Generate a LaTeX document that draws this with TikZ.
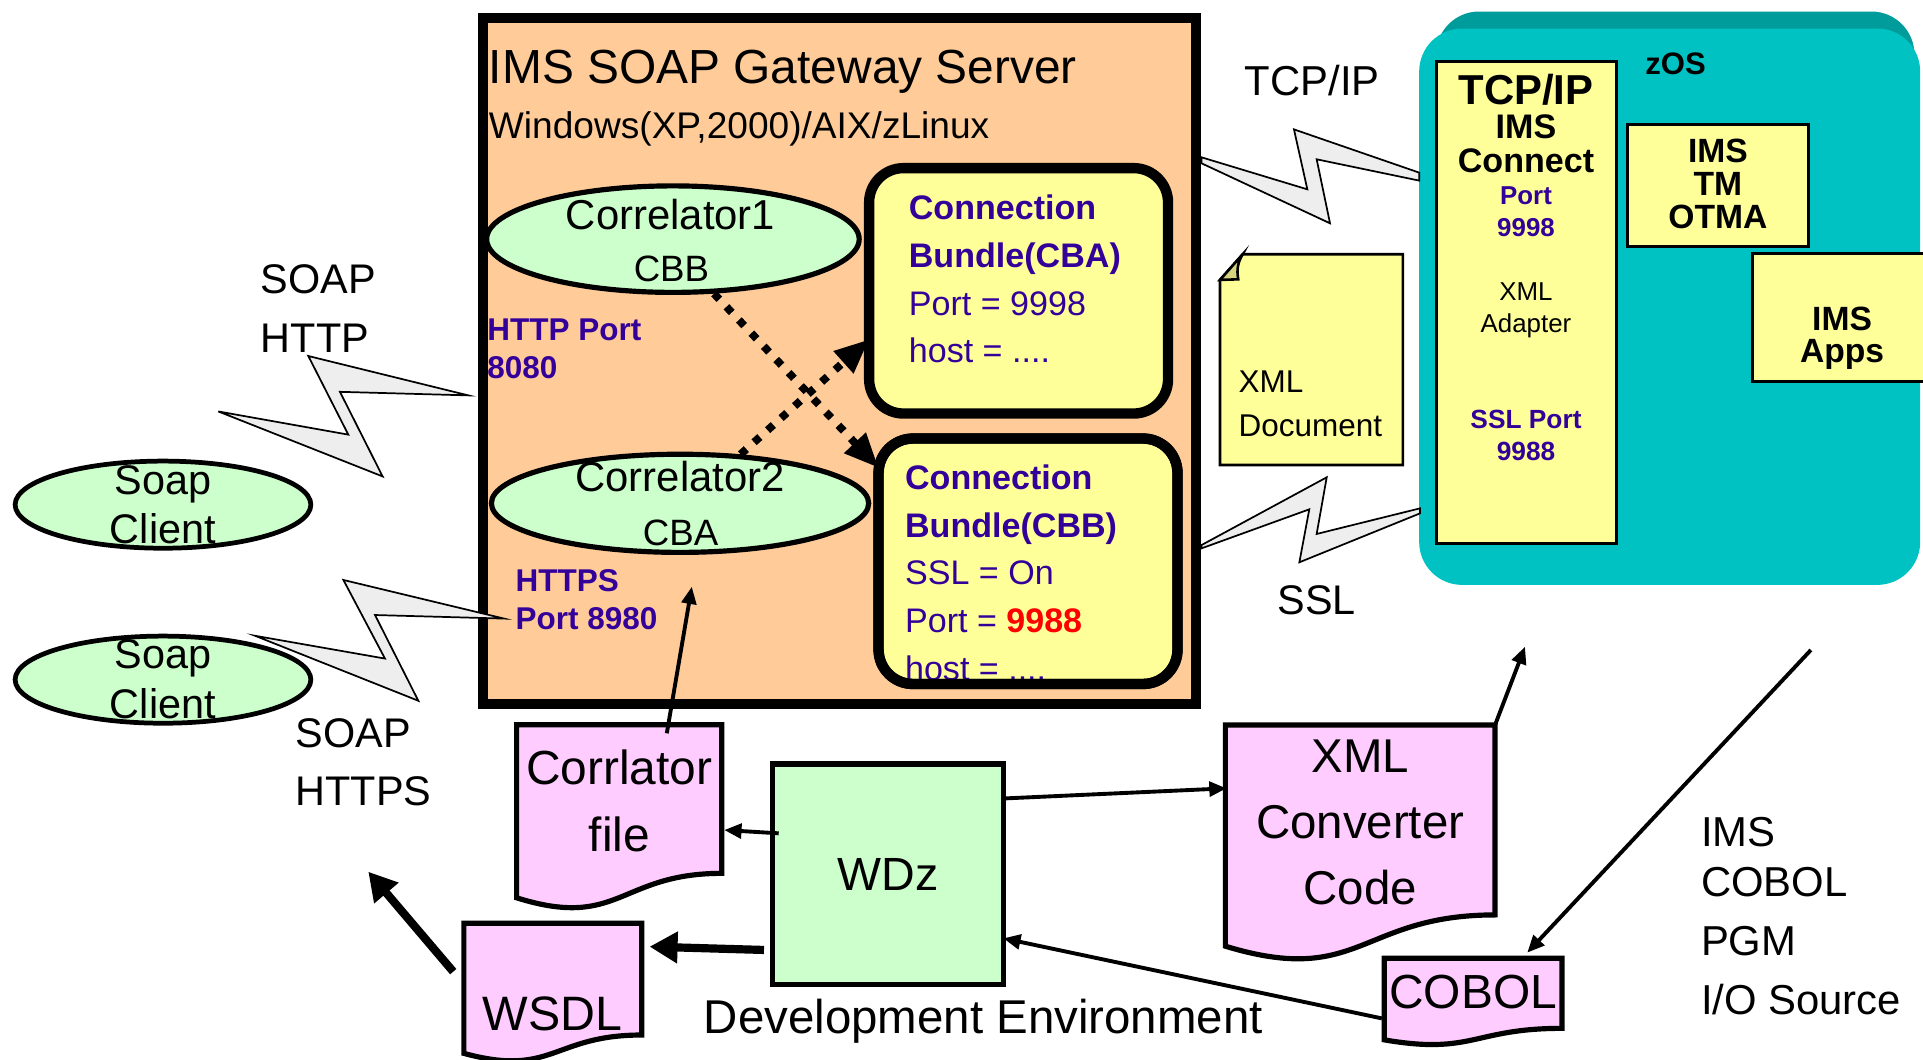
\documentclass[tikz,border=0pt]{standalone}
\usepackage{fontspec}
\setmainfont{Liberation Sans}
\usetikzlibrary{arrows.meta,calc,shapes.geometric}

\definecolor{peach}{HTML}{FFCC99}
\definecolor{mint}{HTML}{CCFFCC}
\definecolor{lemon}{HTML}{FFFF99}
\definecolor{pinkdoc}{HTML}{FFCCFF}
\definecolor{zosteal}{HTML}{00C2C2}
\definecolor{zosdark}{HTML}{009C9C}
\definecolor{portblue}{HTML}{330099}
\definecolor{boltgray}{HTML}{EEEEEE}
\definecolor{flapolive}{HTML}{D5D580}

\tikzset{
  serverbox/.style={draw, line width=2.3pt, fill=peach, inner sep=0pt, outer sep=0pt},
  cbbox/.style={draw, line width=2.4pt, fill=lemon, rounded corners=0.28cm,
    minimum width=2.436cm, minimum height=2cm, inner sep=0pt, outer sep=0pt},
  bubble/.style={ellipse, draw, line width=1.2pt, fill=mint, inner sep=0pt},
  zbox/.style={draw, line width=0.7pt, fill=lemon, inner sep=0pt},
  doc/.style={inner sep=0pt, outer sep=0pt},
  docline/.style={draw, line width=1.2pt, fill=pinkdoc},
  bolt/.style={draw, line width=0.4pt, fill=boltgray, line join=miter},
  label/.style={inner sep=0pt, align=left, anchor=base west},
  mid/.style={inner sep=0pt, align=center, anchor=base},
  porttext/.style={label, text=portblue, font=\bfseries\fontsize{7.3}{8.8}\selectfont},
  cbtext/.style={label, text=portblue, font=\fontsize{7.9}{11.04}\selectfont},
  dotarrow/.style={line width=1.8pt, dash pattern=on 1.8pt off 2.4pt,
    -{Triangle[length=8pt,width=6.5pt]}},
  thinarrow/.style={line width=0.9pt, -{Triangle[length=4pt,width=3.4pt]}},
  thickarrow/.style={line width=1.9pt, -{Triangle[length=6.5pt,width=7pt]}},
}

% wavy page outline round an empty node
\newcommand\docshape[1]{%
  \path[docline] (#1.north west) -- (#1.north east)
    -- ($(#1.north east)!0.802!(#1.south east)$)
    .. controls ($(#1.north)!0.802!(#1.south)$) and ($(#1.north)!1.1075!(#1.south)$)
    .. ($(#1.north west)!0.934!(#1.south west)$) -- cycle;}

\begin{document}
\begin{tikzpicture}[x=0.01cm, y=-0.01cm]
\useasboundingbox (0,0) rectangle (1568,864);

% zOS host (multi-line texts sit on their last baseline)
\fill[zosdark, rounded corners=0.35cm] (1171,9.4) rectangle (1561,462);
\node[fill=zosteal, rounded corners=0.35cm, minimum width=4.083cm, minimum height=4.534cm,
  inner sep=0pt, outer sep=0pt] (zos) at (1361.45,250.1) {};
\node[label, font=\bfseries\fontsize{7.2}{8}\selectfont] (zoslabel) at (1340.9,60.8) {zOS};

\node[zbox, minimum width=1.474cm, minimum height=3.932cm] (imsconnect) at (1244.7,246.5) {};
\node[mid, font=\bfseries\fontsize{9.7}{11}\selectfont] (tcpipin) at (1244.3,84.9) {TCP/IP};
\node[mid, font=\bfseries\fontsize{7.9}{7.97}\selectfont] (connname) at (1244.3,141) {IMS\\Connect};
\node[mid, text=portblue, font=\bfseries\fontsize{6}{7.37}\selectfont] (connport) at (1244.3,192.8) {Port\\9998};
\node[mid, font=\fontsize{6}{7.37}\selectfont] (adapter) at (1244.3,270.9) {XML\\Adapter};
\node[mid, text=portblue, font=\bfseries\fontsize{6.1}{7.3}\selectfont] (sslport) at (1244.3,375.1) {SSL Port\\9988};

\node[zbox, minimum width=1.471cm, minimum height=0.993cm] (otma) at (1400.95,151.05) {};
\node[mid, font=\bfseries\fontsize{7.8}{7.65}\selectfont] (otmaname) at (1400.8,186.3) {IMS\\TM\\OTMA};
\node[zbox, minimum width=1.6cm, minimum height=1.048cm] (apps) at (1509,259) {};
\node[mid, font=\bfseries\fontsize{7.8}{7.37}\selectfont] (appsname) at (1502,295.8) {IMS\\Apps};

% gateway server
\node[serverbox, minimum width=5.81cm, minimum height=5.595cm] (server) at (684.5,294.25) {};
\node[label, font=\fontsize{11.1}{13}\selectfont] (title) at (398,68) {IMS SOAP Gateway Server};
\node[label, font=\fontsize{8.6}{10}\selectfont] (platform) at (398,113) {Windows(XP,2000)/AIX/zLinux};

\node[bubble, minimum width=3.036cm, minimum height=0.868cm] (corr1) at (548.7,195) {};
\node[mid, font=\fontsize{9.7}{11}\selectfont] (corr1name) at (546.8,187.5) {Correlator1};
\node[mid, font=\fontsize{8.5}{10}\selectfont] (corr1cb) at (547.5,229.7) {CBB};
\node[bubble, minimum width=3.075cm, minimum height=0.8cm] (corr2) at (554.5,410.4) {};
\node[mid, font=\fontsize{9.7}{11}\selectfont] (corr2name) at (554.5,400.9) {Correlator2};
\node[mid, font=\fontsize{8.5}{10}\selectfont] (corr2cb) at (554.9,444.4) {CBA};

\node[cbbox] (cba) at (830.55,237.15) {};
\node[cbtext] (cbatext) at (740.4,295.7)
  {\textbf{Connection}\\\textbf{Bundle(CBA)}\\Port = 9998\\host = ....};
\node[cbbox] (cbb) at (838.25,457.65) {};
\node[cbtext] (cbbtext) at (737.3,554.5)
  {\textbf{Connection}\\\textbf{Bundle(CBB)}\\SSL = On\\Port = \textbf{\textcolor{red}{9988}}\\host = ....};
\draw[line width=2.4pt, rounded corners=0.28cm] (cbb.north west) rectangle (cbb.south east);

\draw[dotarrow] (corr1.-53) -- (cbb.148);
\draw[dotarrow] (corr2.39) -- (cba.198);

\node[porttext] (httpport) at (396.7,308.5) {HTTP Port\\8080};
\node[porttext, font=\bfseries\fontsize{7.3}{8.9}\selectfont] (httpsport) at (419.8,513.7) {HTTPS\\Port 8980};

% clients
\node[bubble, line width=1.1pt, minimum width=2.41cm, minimum height=0.71cm] (client1) at (132.9,411.5) {};
\node[mid, font=\fontsize{9.6}{11.4}\selectfont] (client1name) at (132.8,443.2) {Soap\\Client};
\node[bubble, line width=1.1pt, minimum width=2.41cm, minimum height=0.71cm] (client2) at (132.9,554.2) {};
\node[mid, font=\fontsize{9.6}{11.5}\selectfont] (client2name) at (132.8,585.9) {Soap\\Client};

\node[label, font=\fontsize{9.6}{13.66}\selectfont] (soaphttp) at (212,287.4) {SOAP\\HTTP};
\node[label, font=\fontsize{9.6}{13.66}\selectfont] (soaphttps) at (240.4,657.2) {SOAP\\HTTPS};
\node[label, font=\fontsize{9.7}{11}\selectfont] (tcplabel) at (1014.3,78) {TCP/IP};
\node[label, font=\fontsize{9.6}{11}\selectfont] (ssllabel) at (1041,501) {SSL};

% links
\draw[bolt] (178,335.5) -- (284,354.4) -- (251.4,290.3) -- (381.9,322.4) -- (277.2,319.5) -- (312,388.5) -- cycle;
\draw[bolt] (207.9,518.4) -- (313.9,537) -- (280,472.9) -- (411,504.4) -- (305.8,501.5) -- (341.1,571.4) -- cycle;
\draw[bolt] (979.8,128.3) -- (1066,154.4) -- (1055.1,105.5) -- (1157.3,140.8) -- (1157.3,147.3)
  -- (1073.6,129.9) -- (1084.5,182.1) -- (979.8,133.2) -- cycle;
\draw[bolt] (979.8,444.4) -- (1081.8,389.2) -- (1073.6,435.4) -- (1157.9,414.5) -- (1157.9,418.6)
  -- (1059.5,458.5) -- (1067.6,415.3) -- (979.8,447.1) -- cycle;

% xml document
\node[doc, minimum width=1.49cm, minimum height=1.717cm] (xmlnote) at (1069.3,293.25) {};
\draw[line width=0.6pt, fill=lemon] ($(xmlnote.north west)+(18.5,0)$) -- (xmlnote.north east)
  -- (xmlnote.south east) -- (xmlnote.south west) -- ($(xmlnote.north west)+(0,20.9)$) -- cycle;
\draw[line width=0.6pt, fill=flapolive] ($(xmlnote.north west)+(18.5,0)$) -- ($(xmlnote.north west)+(0,20.9)$)
  -- ($(xmlnote.north west)+(14.9,20.4)$) to[bend left=20] ($(xmlnote.north west)+(18.5,0)$) -- cycle;
\node[label, font=\fontsize{7.3}{10.2}\selectfont] (xmldoc) at (1009.3,355.7) {XML\\Document};

% development environment
\node[doc, minimum width=1.672cm, minimum height=1.51cm] (corrfile) at (504.9,666.5) {};
\docshape{corrfile}
\node[mid, font=\fontsize{11.1}{15.5}\selectfont] (corrfiletext) at (505,694.4) {Corrlator\\file};
\node[draw, line width=1.2pt, fill=mint, minimum width=1.88cm, minimum height=1.795cm,
  inner sep=0pt, outer sep=0pt, font=\fontsize{10.8}{12}\selectfont] (wdz) at (724,712.75) {WDz};
\node[doc, minimum width=1.449cm, minimum height=1.135cm] (wsdl) at (450.75,809.65) {};
\docshape{wsdl}
\node[mid, font=\fontsize{11.2}{13}\selectfont] (wsdltext) at (450.7,839.9) {WSDL};
\node[label, font=\fontsize{11}{13}\selectfont] (devenv) at (573.2,842.6) {Development Environment};
\node[doc, minimum width=2.198cm, minimum height=1.93cm] (xmlconv) at (1109.1,687.7) {};
\docshape{xmlconv}
\node[mid, font=\fontsize{11}{15.4}\selectfont] (xmlconvtext) at (1109.1,737.9) {XML\\Converter\\Code};
\node[doc, minimum width=1.448cm, minimum height=0.712cm] (cobol) at (1201.2,817) {};
\docshape{cobol}
\node[mid, font=\fontsize{11.1}{13}\selectfont] (coboltext) at (1201.2,822.2) {COBOL};
\node[label, font=\fontsize{9.7}{13.5}\selectfont] (pgmsource) at (1386.3,827.6)
  {IMS\\[-1.9pt]COBOL\\PGM\\[0.4pt]I/O Source};

\coordinate (httpsin) at (564.1,478.4);
\coordinate (soapout) at (300.3,710.8);
\coordinate (sslout) at (1243.5,527.3);
\coordinate (srcin) at (1476.6,530);

\draw[thinarrow] ($(corrfile.north)+(38.8,7)$) -- (httpsin);
\draw[thinarrow] ($(wdz.west)+(5,-33.25)$) -- ($(corrfile.east)+(2,10.3)$);
\draw[thinarrow] ($(wdz.east)+(2,-61.75)$) -- ($(xmlconv.west)+(1,-44.9)$);
\draw[thinarrow] ($(cobol.west)+(-2,13.4)$) -- ($(wdz.east)+(0,52.35)$);
\draw[thickarrow] ($(wdz.west)+(-7,61.85)$) -- ($(wsdl.east)+(6.4,-37.75)$);
\draw[thickarrow] ($(wsdl.north west)+(-8.7,39.4)$) -- (soapout);
\draw[thinarrow] (xmlconv.north east) -- (sslout);
\draw[thinarrow] (srcin) -- ($(cobol.north east)+(-28.3,-4.6)$);
\end{tikzpicture}
\end{document}
